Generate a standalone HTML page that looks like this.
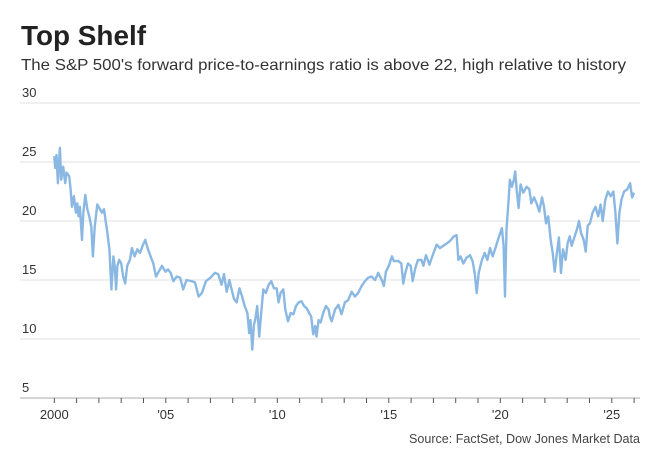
<!DOCTYPE html>
<html><head><meta charset="utf-8"><style>
html,body{margin:0;padding:0;background:#fff;}
svg{display:block;font-family:"Liberation Sans",sans-serif;}
</style></head><body>
<svg id="chart" width="658" height="465" viewBox="0 0 658 465">
<text x="21" y="45" font-size="28" font-weight="bold" fill="#222" textLength="125" lengthAdjust="spacingAndGlyphs">Top Shelf</text>
<text x="21" y="70" font-size="16" fill="#333" textLength="605" lengthAdjust="spacingAndGlyphs">The S&amp;P 500's forward price-to-earnings ratio is above 22, high relative to history</text>
<g id="grid"></g>
<g id="yax"></g>
<g id="xax"></g>
<g id="series"></g>
<text x="640" y="443" font-size="13" fill="#444" text-anchor="end" textLength="231" lengthAdjust="spacingAndGlyphs">Source: FactSet, Dow Jones Market Data</text>
</svg>
<script>
const yTicks = [5, 10, 15, 20, 25, 30];
const xTickYears = [2000, 2005, 2010, 2015, 2020, 2025];
const xTickLabels = ["2000", "'05", "'10", "'15", "'20", "'25"];
const years = [2000.00,2000.04,2000.10,2000.16,2000.25,2000.31,2000.40,2000.49,2000.55,2000.67,2000.73,2000.79,2000.88,2000.97,2001.03,2001.09,2001.15,2001.24,2001.30,2001.39,2001.48,2001.57,2001.66,2001.73,2001.81,2001.93,2002.05,2002.14,2002.23,2002.32,2002.38,2002.47,2002.56,2002.65,2002.71,2002.77,2002.83,2002.91,2003.00,2003.09,2003.18,2003.27,2003.39,2003.48,2003.60,2003.72,2003.84,2003.96,2004.08,2004.20,2004.32,2004.44,2004.56,2004.68,2004.83,2004.98,2005.10,2005.22,2005.34,2005.49,2005.64,2005.78,2005.93,2006.16,2006.31,2006.47,2006.62,2006.80,2007.01,2007.20,2007.35,2007.50,2007.61,2007.73,2007.85,2007.95,2008.06,2008.18,2008.30,2008.42,2008.54,2008.66,2008.74,2008.80,2008.88,2008.95,2009.01,2009.10,2009.19,2009.28,2009.37,2009.49,2009.61,2009.73,2009.85,2009.97,2010.06,2010.15,2010.27,2010.36,2010.48,2010.60,2010.72,2010.84,2010.96,2011.08,2011.20,2011.32,2011.43,2011.52,2011.61,2011.70,2011.76,2011.85,2011.94,2012.06,2012.18,2012.30,2012.36,2012.44,2012.59,2012.74,2012.88,2013.03,2013.18,2013.33,2013.48,2013.63,2013.78,2013.93,2014.08,2014.23,2014.38,2014.53,2014.68,2014.78,2014.87,2015.02,2015.14,2015.23,2015.43,2015.56,2015.65,2015.74,2015.86,2015.98,2016.07,2016.19,2016.31,2016.46,2016.55,2016.67,2016.82,2016.97,2017.15,2017.29,2017.52,2017.74,2017.92,2018.04,2018.12,2018.22,2018.34,2018.49,2018.64,2018.76,2018.85,2018.94,2019.03,2019.16,2019.30,2019.42,2019.54,2019.66,2019.78,2019.93,2020.07,2020.15,2020.21,2020.28,2020.37,2020.43,2020.52,2020.61,2020.67,2020.73,2020.82,2020.91,2021.03,2021.18,2021.30,2021.39,2021.51,2021.63,2021.75,2021.87,2021.96,2022.05,2022.15,2022.26,2022.35,2022.44,2022.54,2022.63,2022.72,2022.81,2022.93,2023.02,2023.11,2023.20,2023.32,2023.44,2023.53,2023.62,2023.74,2023.83,2023.92,2024.02,2024.14,2024.27,2024.39,2024.50,2024.59,2024.71,2024.83,2024.95,2025.07,2025.16,2025.25,2025.34,2025.43,2025.55,2025.70,2025.82,2025.91,2026.00];
const peValues = [25.5,24.5,25.6,23.2,26.2,23.5,24.6,23.2,24.1,23.8,22.7,21.2,22.1,20.7,21.5,20.4,21.2,18.4,20.7,22.2,21.0,20.4,19.5,17.0,19.5,21.4,21.0,20.7,21.0,19.8,19.0,17.6,14.2,17.0,16.2,14.2,16.2,16.7,16.4,15.3,14.7,16.2,16.7,17.7,17.0,17.6,17.3,17.9,18.4,17.6,17.0,16.4,15.3,15.7,16.2,15.7,15.9,15.6,14.9,15.3,15.2,14.2,15.0,14.9,14.8,13.6,13.9,14.9,15.2,15.6,15.5,14.6,15.5,14.0,15.0,14.2,13.4,13.1,14.3,13.6,12.8,12.2,10.5,11.6,9.1,11.2,11.6,12.8,10.2,12.2,14.2,13.9,14.6,14.9,14.3,14.3,13.1,13.9,14.2,12.5,11.5,12.2,12.1,12.8,13.1,13.2,12.8,12.6,12.2,11.9,10.4,11.1,10.2,11.6,11.4,12.2,12.8,12.5,11.9,11.5,12.5,12.9,12.1,13.1,13.3,14.0,13.6,13.9,14.5,14.9,15.2,15.3,15.0,15.6,15.0,14.5,15.7,16.3,17.0,16.6,16.6,16.4,14.7,15.6,16.4,16.2,14.9,16.0,16.7,16.7,16.2,17.1,16.3,17.1,18.0,17.7,18.0,18.3,18.7,18.8,16.7,17.0,16.4,16.9,17.1,16.6,15.6,13.9,15.6,16.6,17.3,16.7,17.7,17.0,17.7,18.6,19.4,17.9,13.6,19.3,21.8,23.5,22.9,23.5,24.2,22.7,21.1,23.1,22.4,22.9,22.7,21.5,22.0,21.5,20.8,22.0,21.2,19.8,20.4,18.4,17.3,15.7,17.3,18.6,15.6,17.6,16.7,18.1,18.7,17.9,18.6,19.3,20.0,19.0,18.4,17.4,19.6,19.8,20.7,21.2,20.4,21.4,20.0,21.8,22.5,22.1,22.5,20.7,18.1,20.7,21.8,22.5,22.7,23.2,22.0,22.4];

const NS = 'http://www.w3.org/2000/svg';
const X0 = 20, X1 = 640, baseY = 398;
function xs(yr){ return 54.3 + (yr - 2000) * 22.3; }
function ys(v){ return baseY - (v - 5) * 11.8; }
function mk(tag, attrs, parent){ const e = document.createElementNS(NS, tag); for (const k in attrs) e.setAttribute(k, attrs[k]); parent.appendChild(e); return e; }

const grid = document.getElementById('grid');
const yax = document.getElementById('yax');
yTicks.forEach(function(t){
  const ln = mk('line', {x1: X0, x2: X1, y1: ys(t), y2: ys(t), stroke: t === 5 ? '#aaa' : '#e2e2e2', 'stroke-width': 1}, grid);
  
  
  const tx = mk('text', {x: 22, y: ys(t) - 6, 'font-size': 13, fill: '#333'}, yax);
  tx.textContent = String(t);
  
  
});

const xax = document.getElementById('xax');
for (let yr = 2000; yr <= 2026; yr++) {
  const tk = mk('line', {x1: xs(yr), x2: xs(yr), y1: baseY, y2: baseY + 5, stroke: '#555', 'stroke-width': 1}, xax);
  
  
}
xTickYears.forEach(function(yr, i){
  const tx = mk('text', {x: xs(yr), y: 419, 'font-size': 13, fill: '#333', 'text-anchor': 'middle'}, xax);
  tx.textContent = xTickLabels[i];
  
  
});

const series = document.getElementById('series');
let d = '';
years.forEach(function(yr, i){ d += (i ? 'L' : 'M') + xs(yr).toFixed(1) + ',' + ys(peValues[i]).toFixed(1); });
const path = mk('path', {d: d, fill: 'none', stroke: '#8ab8e3', 'stroke-width': 2.4, 'stroke-linejoin': 'round'}, series);


</script>
</body></html>
